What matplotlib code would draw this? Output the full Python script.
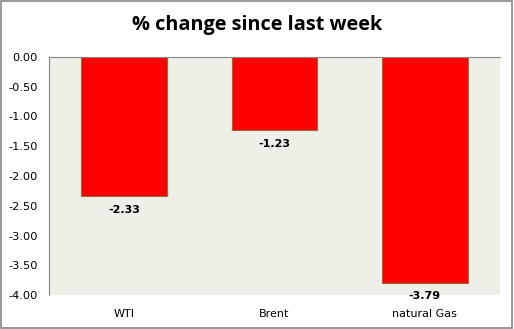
import numpy as np
import matplotlib.pyplot as plt
from matplotlib.patches import Rectangle

categories = ["WTI", "Brent", "natural Gas"]
changes = [-2.33, -1.23, -3.79]
yticks = [0.0, -0.5, -1.0, -1.5, -2.0, -2.5, -3.0, -3.5, -4.0]

fig = plt.figure(figsize=(5.14, 3.29), dpi=100)
ax = fig.add_axes([49/514, 1 - 295/329, 451/514, 238/329])

x = np.arange(len(categories))
bars = ax.bar(x, changes, width=0.57, color="#ff0000", edgecolor="#9c6a3a", linewidth=0.8, zorder=2)

ax.set_facecolor("#eef0e8")
ax.set_xlim(-0.5, 2.5)
ax.set_ylim(-4.0, 0.0)
ax.set_yticks(yticks)
ax.set_yticklabels(["%.2f" % v for v in yticks], fontsize=8.2, family="DejaVu Sans")
ax.set_xticks(x)
ax.set_xticklabels(categories, fontsize=8.0, family="DejaVu Sans")
ax.tick_params(axis="both", length=0)
ax.tick_params(axis="y", pad=8)
ax.tick_params(axis="x", pad=10)

for s in ["right", "bottom"]:
    ax.spines[s].set_visible(False)
ax.spines["left"].set_color("#868686")
ax.spines["top"].set_color("#868686")
ax.spines["left"].set_linewidth(0.8)
ax.spines["top"].set_linewidth(0.8)

for b, v in zip(bars, changes):
    ax.annotate("%.2f" % v, (b.get_x() + b.get_width() / 2, v), xytext=(0, -10),
                textcoords="offset points", ha="center", va="center",
                fontsize=8, fontweight="bold", annotation_clip=False)

fig.text(0.5, 1 - 25/329, "% change since last week", ha="center", va="center",
         fontsize=14.3, fontweight="bold", family="Open Sans")

fig.patches.append(Rectangle((0.002, 0.003), 0.994, 0.994, transform=fig.transFigure,
                             fill=False, edgecolor="#888888", linewidth=1.2))

fig.savefig("out.png", dpi=100)
